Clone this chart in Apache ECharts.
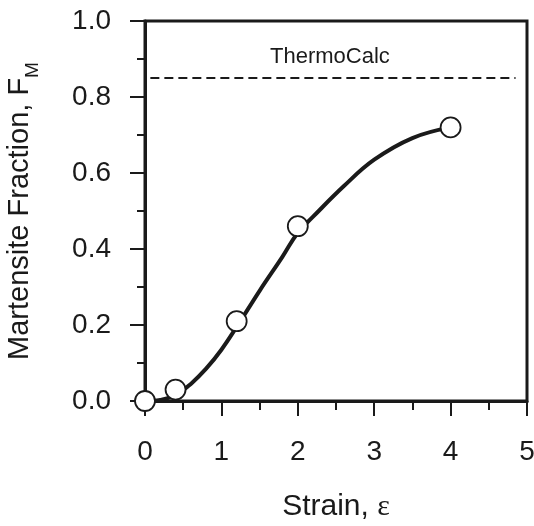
<!DOCTYPE html>
<html>
<head>
<meta charset="utf-8">
<script src="https://cdn.jsdelivr.net/npm/echarts@6/dist/echarts.min.js"></script>
<style>html,body{margin:0;padding:0;background:#fff}#c{width:534px;height:526px}</style>
</head>
<body>
<div id="c"></div>
<script>
// Measured points
var strainPts = [0, 0.4, 1.2, 2.0, 4.0];
var fractionPts = [0.0, 0.03, 0.21, 0.46, 0.72];
// Fitted curve
var curveX = [0, 0.2, 0.4, 0.6, 0.8, 1.0, 1.2, 1.5, 1.8, 2.0, 2.2, 2.6, 3.0, 3.5, 4.0];
var curveY = [0, 0.003, 0.015, 0.045, 0.085, 0.135, 0.195, 0.29, 0.38, 0.443, 0.485, 0.565, 0.635, 0.692, 0.72];
// ThermoCalc equilibrium level
var thermoX = [0.07, 4.85];
var thermoY = 0.85;
var thermoLabel = 'ThermoCalc';
var thermoLabelPos = [2.42, 0.905];
var xTicks = [0, 1, 2, 3, 4, 5];
var yTicks = [0.0, 0.2, 0.4, 0.6, 0.8, 1.0];

var ink = '#1a1a1a';
var font = 'Liberation Sans, Arial, sans-serif';

function zip(a, b) { return a.map(function (v, i) { return [v, b[i]]; }); }

var chart = echarts.init(document.getElementById('c'));
chart.setOption({
  animation: false,
  backgroundColor: '#fff',
  grid: { left: 145, right: 7, top: 21, bottom: 125, containLabel: false, outerBoundsMode: 'none', show: true, borderColor: ink, borderWidth: 3, backgroundColor: 'transparent' },
  xAxis: {
    type: 'value', min: 0, max: 5, interval: 1,
    name: '{t|Strain, }{e|ε}', nameLocation: 'middle', nameGap: 91,
    nameTextStyle: { rich: { t: { fontFamily: font, fontSize: 30, color: ink }, e: { fontFamily: 'Liberation Serif, serif', fontSize: 30, color: ink } } },
    axisLine: { show: true, lineStyle: { color: ink, width: 3 } },
    axisTick: { show: true, inside: false, length: 15, lineStyle: { color: ink, width: 2 } },
    minorTick: { show: true, splitNumber: 2, length: 9, lineStyle: { color: ink, width: 2 } },
    axisLabel: { fontFamily: font, fontSize: 28, color: ink, margin: 37, formatter: function (v) { return xTicks.indexOf(v) >= 0 ? String(v) : ''; } },
    splitLine: { show: false }
  },
  yAxis: {
    type: 'value', min: 0, max: 1, interval: 0.2,
    name: '{t|Martensite Fraction, F}{s|M}', nameLocation: 'middle', nameGap: 103, nameRotate: 90,
    nameTextStyle: { rich: { t: { fontFamily: font, fontSize: 29, color: ink }, s: { fontFamily: font, fontSize: 19, color: ink, verticalAlign: 'bottom', lineHeight: 44 } } },
    axisLine: { show: true, lineStyle: { color: ink, width: 3 } },
    axisTick: { show: true, inside: false, length: 15, lineStyle: { color: ink, width: 2 } },
    minorTick: { show: true, splitNumber: 2, length: 8, lineStyle: { color: ink, width: 2 } },
    axisLabel: { fontFamily: font, fontSize: 28, color: ink, margin: 34, formatter: function (v) { return v.toFixed(1); } },
    splitLine: { show: false }
  },
  series: [
    {
      type: 'line', data: [[thermoX[0], thermoY], [thermoX[1], thermoY]], symbol: 'none',
      lineStyle: { color: ink, width: 2, type: [9, 5] }, z: 2, silent: true
    },
    {
      type: 'scatter', data: [thermoLabelPos], symbolSize: 1, silent: true,
      itemStyle: { color: 'rgba(0,0,0,0)', opacity: 1 },
      label: { show: true, position: 'inside', formatter: thermoLabel, fontFamily: font, fontSize: 22, color: ink }, z: 3
    },
    {
      type: 'line', data: zip(curveX, curveY), smooth: 0.4, symbol: 'none',
      lineStyle: { color: ink, width: 4 }, z: 4, silent: true
    },
    {
      type: 'scatter', data: zip(strainPts, fractionPts), symbol: 'circle', symbolSize: 20, clip: false, silent: true,
      itemStyle: { color: '#fff', borderColor: ink, borderWidth: 1.8, opacity: 1 }, z: 5
    }
  ]
});
</script>
</body>
</html>
